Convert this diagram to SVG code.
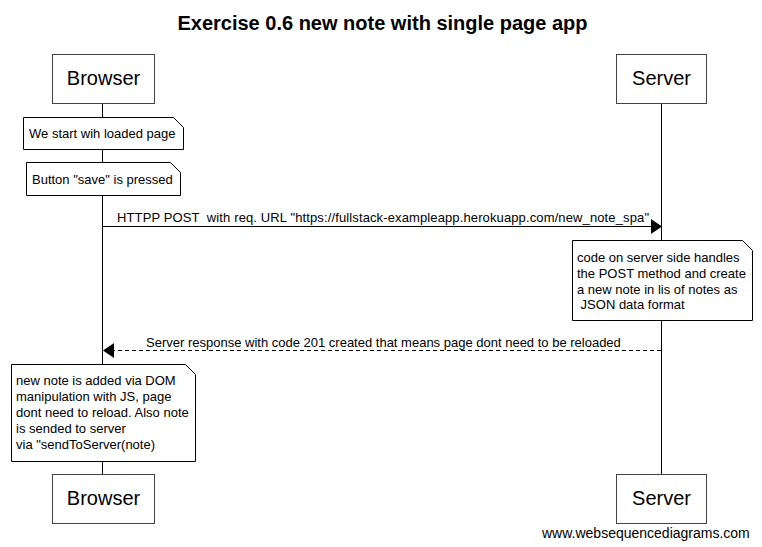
<svg xmlns="http://www.w3.org/2000/svg" width="762" height="547" viewBox="0 0 762 547">
<style>
text{font-family:"Liberation Sans",Arial,sans-serif;fill:#000}
.title{font-size:20px;font-weight:bold}
.actor{font-size:20px}
.small{font-size:13px;white-space:pre}
.foot{font-size:14px}
.box{fill:#fff;stroke:#444;stroke-width:1}
.note{fill:#fff;stroke:#000;stroke-width:1}
.life{stroke:#000;stroke-width:1}
.msg{stroke:#000;stroke-width:1;fill:none}
.dash{stroke-dasharray:4,3}
</style>
<rect width="762" height="547" fill="#fff"/>
<text class="title" x="382.5" y="30" text-anchor="middle">Exercise 0.6 new note with single page app</text>
<g id="lifelines">
<line class="life" x1="102.5" y1="103" x2="102.5" y2="474"/>
<line class="life" x1="661.5" y1="103" x2="661.5" y2="474"/>
</g>
<g id="browser-top"><rect class="box" x="52.5" y="54.5" width="102" height="49"/><text class="actor" x="103.5" y="85" text-anchor="middle">Browser</text></g>
<g id="server-top"><rect class="box" x="616.5" y="54.5" width="90" height="49"/><text class="actor" x="661.5" y="85" text-anchor="middle">Server</text></g>
<g id="browser-bottom"><rect class="box" x="52.5" y="474.5" width="102" height="49"/><text class="actor" x="103.5" y="505" text-anchor="middle">Browser</text></g>
<g id="server-bottom"><rect class="box" x="616.5" y="474.5" width="90" height="49"/><text class="actor" x="661.5" y="505" text-anchor="middle">Server</text></g>
<g id="note1"><path class="note" d="M23.5,117.5 H173.5 L183.5,127.5 V149.5 H23.5 Z"/><text class="small" x="29" y="138">We start wih loaded page</text></g>
<g id="note2"><path class="note" d="M26.5,162.5 H170.5 L180.5,172.5 V195.5 H26.5 Z"/><text class="small" x="32" y="184">Button "save" is pressed</text></g>
<g id="note3"><path class="note" d="M572.5,240.5 H742.5 L752.5,250.5 V320.5 H572.5 Z"/>
<text class="small" x="577" y="262">code on server side handles</text>
<text class="small" x="577" y="278">the POST method and create</text>
<text class="small" x="577" y="294">a new note in lis of notes as</text>
<text class="small" x="577" y="309"> JSON data format</text></g>
<g id="note4"><path class="note" d="M11.5,364.5 H185.5 L195.5,374.5 V461.5 H11.5 Z"/>
<text class="small" x="16" y="385">new note is added via DOM</text>
<text class="small" x="16" y="401">manipulation with JS, page</text>
<text class="small" x="16" y="417">dont need to reload. Also note</text>
<text class="small" x="16" y="433">is sended to server</text>
<text class="small" x="16" y="449">via "sendToServer(note)</text></g>
<g id="connectors">
<line class="msg" x1="103" y1="226.5" x2="652" y2="226.5"/>
<polygon points="651,219 662,226.5 651,234" fill="#000"/>
<text class="small" x="117" y="222" textLength="532" lengthAdjust="spacing">HTTPP POST  with req. URL "https://fullstack-exampleapp.herokuapp.com/new_note_spa"</text>
<line class="msg dash" x1="661" y1="350.5" x2="113" y2="350.5"/>
<polygon points="103,350.5 114,343 114,358" fill="#000"/>
<text class="small" x="146" y="347">Server response with code 201 created that means page dont need to be reloaded</text>
</g>
<text class="foot" x="542" y="538">www.websequencediagrams.com</text>
</svg>
